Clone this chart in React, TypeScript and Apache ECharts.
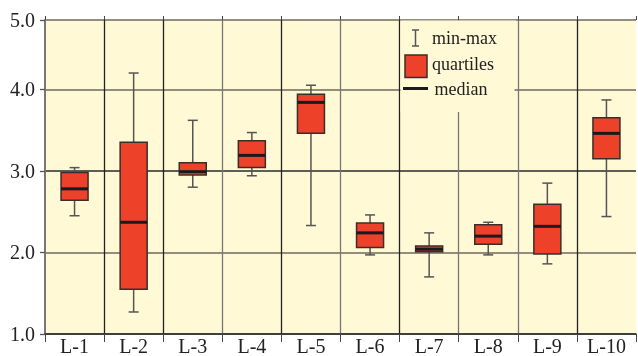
import React, { useEffect, useRef } from "react";
import * as echarts from "echarts";

const categories = ["L-1", "L-2", "L-3", "L-4", "L-5", "L-6", "L-7", "L-8", "L-9", "L-10"];
const minValues = [2.45, 1.27, 2.8, 2.94, 2.33, 1.97, 1.7, 1.97, 1.86, 2.44];
const q1Values = [2.64, 1.55, 2.95, 3.04, 3.46, 2.06, 2.01, 2.1, 1.98, 3.15];
const medianValues = [2.78, 2.37, 2.99, 3.19, 3.84, 2.24, 2.04, 2.2, 2.32, 3.46];
const q3Values = [2.98, 3.35, 3.1, 3.37, 3.94, 2.36, 2.08, 2.34, 2.59, 3.65];
const maxValues = [3.04, 4.2, 3.62, 3.47, 4.05, 2.46, 2.24, 2.37, 2.85, 3.87];
const legendLabels = ["min-max", "quartiles", "median"];

const FONT = '"Liberation Serif", "Times New Roman", serif';
const BG = "#FFF9D6";
const RED = "#EE412A";

export default function App() {
  const ref = useRef<HTMLDivElement>(null);
  useEffect(() => {
    if (!ref.current) return;
    const chart = echarts.init(ref.current, null, { renderer: "svg" });
    const data = categories.map((_, i) => [i, minValues[i], q1Values[i], medianValues[i], q3Values[i], maxValues[i]]);
    const boxHalf = 13.5;
    const capHalf = 5;
    chart.setOption({
      animation: false,
      textStyle: { fontFamily: FONT },
      grid: {
        left: 45,
        right: 2,
        top: 20,
        bottom: 22,
        show: true,
        backgroundColor: BG,
        borderWidth: 0,
      },
      xAxis: [
        {
          type: "category",
          data: categories,
          position: "bottom",
          boundaryGap: true,
          axisLine: { show: true, lineStyle: { color: "#333", width: 1.5 } },
          axisTick: { show: true, length: 8, interval: 0, alignWithLabel: false, lineStyle: { color: "#444", width: 1 } },
          axisLabel: { fontFamily: FONT, fontSize: 20, color: "#222", margin: 2, interval: 0 },
          splitLine: {
            show: true,
            showMinLine: false,
            showMaxLine: false,
            interval: 0,
            lineStyle: {
              color: ["#222", "#222", "#777", "#222", "#777", "#222", "#777", "#777", "#222"],
              width: 1.3,
            },
          },
        },
        {
          type: "category",
          data: categories,
          position: "top",
          boundaryGap: true,
          axisLine: { show: false },
          axisTick: { show: true, length: 4, interval: 0, lineStyle: { color: "#444", width: 1 } },
          axisLabel: { show: false },
          splitLine: { show: false },
        },
      ],
      yAxis: {
        type: "value",
        min: 1,
        max: 4.85,
        interval: 1,
        axisLine: { show: true, lineStyle: { color: "#777", width: 2 } },
        axisTick: { show: true, length: 5, lineStyle: { color: "#555", width: 1.3 } },
        axisLabel: {
          fontFamily: FONT,
          fontSize: 20,
          color: "#222",
          margin: 10,
          formatter: (v: number) => (v > 4.5 ? "5.0" : v.toFixed(1)),
        },
        splitLine: {
          show: true,
          lineStyle: { color: ["#333", "#6f6a5e", "#2a2a2a", "#6f6a5e", "#6f6a5e"], width: 1.6 },
        },
      },
      series: [
        {
          type: "custom",
          data,
          encode: { x: 0, y: [1, 2, 3, 4, 5] },
          renderItem: (params: any, api: any) => {
            const idx = api.value(0);
            const pMin = api.coord([idx, api.value(1)]);
            const pQ1 = api.coord([idx, api.value(2)]);
            const pMed = api.coord([idx, api.value(3)]);
            const pQ3 = api.coord([idx, api.value(4)]);
            const pMax = api.coord([idx, api.value(5)]);
            const cx = pMin[0];
            const whisker = { stroke: "#555", lineWidth: 1.5 };
            return {
              type: "group",
              children: [
                { type: "line", shape: { x1: cx, y1: pMin[1], x2: cx, y2: pMax[1] }, style: whisker },
                { type: "line", shape: { x1: cx - capHalf, y1: pMin[1], x2: cx + capHalf, y2: pMin[1] }, style: whisker },
                { type: "line", shape: { x1: cx - capHalf, y1: pMax[1], x2: cx + capHalf, y2: pMax[1] }, style: whisker },
                {
                  type: "rect",
                  shape: { x: cx - boxHalf, y: pQ3[1], width: boxHalf * 2, height: pQ1[1] - pQ3[1] },
                  style: { fill: RED, stroke: "#3a2e2a", lineWidth: 1.5 },
                },
                {
                  type: "line",
                  shape: { x1: cx - boxHalf, y1: pMed[1], x2: cx + boxHalf, y2: pMed[1] },
                  style: { stroke: "#1a1a1a", lineWidth: 3 },
                },
              ],
            };
          },
          z: 5,
        },
      ],
      graphic: [
        { type: "rect", z: 50, shape: { x: 400.5, y: 20.5, width: 115.5, height: 68 }, style: { fill: BG } },
        { type: "rect", z: 50, shape: { x: 400.5, y: 88, width: 114, height: 24 }, style: { fill: BG } },
        { type: "line", z: 51, shape: { x1: 415.5, y1: 30, x2: 415.5, y2: 46 }, style: { stroke: "#555", lineWidth: 1.5 } },
        { type: "line", z: 51, shape: { x1: 412, y1: 30, x2: 419, y2: 30 }, style: { stroke: "#555", lineWidth: 1.5 } },
        { type: "line", z: 51, shape: { x1: 412, y1: 46, x2: 419, y2: 46 }, style: { stroke: "#555", lineWidth: 1.5 } },
        { type: "text", z: 51, x: 432, y: 37.5, style: { text: legendLabels[0], font: `18px ${FONT}`, fill: "#222", verticalAlign: "middle" } },
        { type: "rect", z: 51, shape: { x: 405, y: 55, width: 22, height: 22.5 }, style: { fill: RED, stroke: "#3a2e2a", lineWidth: 1.5 } },
        { type: "text", z: 51, x: 432, y: 63.5, style: { text: legendLabels[1], font: `18px ${FONT}`, fill: "#222", verticalAlign: "middle" } },
        { type: "line", z: 51, shape: { x1: 403, y1: 88.5, x2: 428, y2: 88.5 }, style: { stroke: "#1a1a1a", lineWidth: 3 } },
        { type: "text", z: 51, x: 434.5, y: 89, style: { text: legendLabels[2], font: `18px ${FONT}`, fill: "#222", verticalAlign: "middle" } },
      ],
    });
    return () => chart.dispose();
  }, []);
  return <div ref={ref} style={{ width: 638, height: 356, position: "fixed", left: 0, top: 0 }} />;
}
